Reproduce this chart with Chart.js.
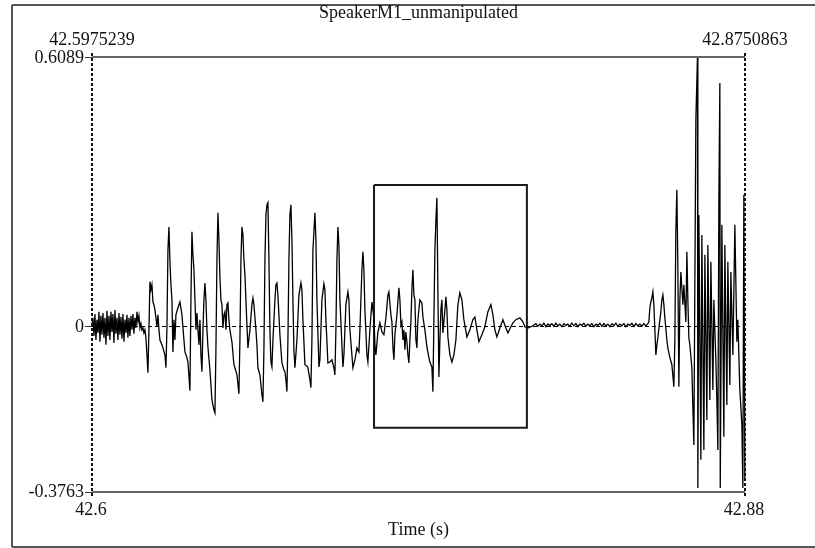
<!DOCTYPE html>
<html>
<head>
<meta charset="utf-8">
<script src="https://cdn.jsdelivr.net/npm/chart.js@4"></script>
<style>
  html, body { margin: 0; padding: 0; background: #fff; }
  #wave { display: block; }
</style>
</head>
<body>
<canvas id="wave" width="815" height="548"></canvas>
<script>
// window shown in the picture
var tStart = 42.5975239, tEnd = 42.8750863;
var aMin = -0.3763, aMax = 0.6089;
var titleText = "SpeakerM1_unmanipulated";
var bottomLabels = ["42.6", "42.88"];
var xTitle = "Time (s)";

// waveform (time in s, amplitude)
var waveTimes = [
42.59750,42.59793,42.59835,42.59878,42.59920,42.59963,42.60005,42.60048,42.60090,42.60133,
42.60175,42.60218,42.60260,42.60303,42.60345,42.60388,42.60430,42.60473,42.60515,42.60558,
42.60600,42.60643,42.60685,42.60728,42.60770,42.60813,42.60855,42.60898,42.60940,42.60983,
42.61025,42.61068,42.61110,42.61153,42.61195,42.61238,42.61280,42.61323,42.61365,42.61408,
42.61450,42.61493,42.61535,42.61578,42.61620,42.61663,42.61705,42.61748,42.61790,42.61833,
42.61875,42.61918,42.61960,42.62003,42.62045,42.62088,42.62130,42.62173,42.62215,42.62258,
42.62300,42.62343,42.62385,42.62428,42.62470,42.62513,42.62555,42.62598,42.62640,42.62725,
42.62768,42.62853,42.62895,42.62938,42.62980,42.63023,42.63065,42.63108,42.63150,42.63193,
42.63235,42.63278,42.63320,42.63405,42.63490,42.63575,42.63660,42.63703,42.63788,42.63830,
42.63915,42.63958,42.64000,42.64043,42.64085,42.64128,42.64170,42.64213,42.64255,42.64298,
42.64340,42.64383,42.64425,42.64468,42.64510,42.64553,42.64595,42.64638,42.64680,42.64765,
42.64850,42.64935,42.64978,42.65020,42.65063,42.65105,42.65148,42.65190,42.65233,42.65275,
42.65318,42.65360,42.65403,42.65445,42.65488,42.65530,42.65573,42.65615,42.65700,42.65785,
42.65828,42.65913,42.65998,42.66040,42.66083,42.66125,42.66168,42.66210,42.66253,42.66295,
42.66338,42.66380,42.66465,42.66550,42.66593,42.66635,42.66720,42.66763,42.66805,42.66890,
42.66975,42.67018,42.67060,42.67103,42.67145,42.67188,42.67230,42.67273,42.67315,42.67358,
42.67400,42.67443,42.67528,42.67570,42.67613,42.67655,42.67740,42.67825,42.67910,42.67953,
42.67995,42.68038,42.68080,42.68123,42.68165,42.68208,42.68250,42.68293,42.68335,42.68378,
42.68463,42.68548,42.68633,42.68675,42.68718,42.68803,42.68888,42.68930,42.69015,42.69058,
42.69100,42.69143,42.69228,42.69270,42.69313,42.69398,42.69440,42.69525,42.69610,42.69653,
42.69695,42.69780,42.69865,42.69950,42.70035,42.70078,42.70120,42.70163,42.70205,42.70248,
42.70290,42.70418,42.70460,42.70545,42.70630,42.70673,42.70715,42.70843,42.70928,42.71013,
42.71098,42.71140,42.71225,42.71268,42.71310,42.71353,42.71438,42.71480,42.71565,42.71650,
42.71735,42.71778,42.71820,42.71905,42.71990,42.72075,42.72160,42.72245,42.72330,42.72373,
42.72458,42.72500,42.72543,42.72585,42.72628,42.72713,42.72798,42.72840,42.72883,42.72925,
42.72968,42.73010,42.73053,42.73095,42.73138,42.73180,42.73223,42.73265,42.73308,42.73350,
42.73393,42.73435,42.73478,42.73520,42.73563,42.73605,42.73690,42.73775,42.73818,42.73903,
42.73988,42.74073,42.74115,42.74200,42.74243,42.74285,42.74328,42.74370,42.74413,42.74455,
42.74498,42.74540,42.74583,42.74625,42.74668,42.74753,42.74795,42.74838,42.74880,42.74965,
42.75050,42.75135,42.75220,42.75305,42.75390,42.75475,42.75560,42.75688,42.75815,42.75943,
42.76028,42.76113,42.76198,42.76325,42.76453,42.76580,42.76708,42.76793,42.76878,42.76963,
42.77090,42.77218,42.77345,42.77430,42.77558,42.77643,42.77770,42.77940,42.78068,42.78153,
42.78280,42.78408,42.78535,
42.78620,42.78705,42.78790,42.78875,42.78960,42.79045,42.79130,42.79215,42.79300,42.79385,
42.79470,42.79555,42.79640,42.79725,42.79810,42.79895,42.79980,42.80065,42.80150,42.80235,
42.80320,42.80405,42.80490,42.80575,42.80660,42.80745,42.80830,42.80915,42.81000,42.81085,
42.81170,42.81255,42.81340,42.81425,42.81510,42.81595,42.81680,42.81765,42.81850,42.81935,
42.82020,42.82105,42.82190,42.82275,42.82360,42.82445,42.82530,42.82615,42.82700,42.82785,
42.82870,42.82955,42.83040,42.83125,42.83210,42.83295,
42.83380,42.83423,42.83465,
42.83508,42.83550,42.83593,42.83635,42.83678,42.83720,42.83763,42.83805,42.83890,42.83933,
42.83975,42.84018,42.84060,42.84103,42.84188,42.84230,42.84315,42.84400,42.84485,42.84528,
42.84570,42.84613,42.84655,42.84698,42.84740,42.84783,42.84868,42.84910,42.84995,42.85038,
42.85080,42.85123,42.85165,42.85250,42.85293,42.85335,42.85420,42.85488,42.85505,42.85548,
42.85633,42.85675,42.85760,42.85803,42.85888,42.85930,42.86015,42.86058,42.86143,42.86185,
42.86270,42.86313,42.86355,42.86398,42.86440,42.86457,42.86525,42.86610,42.86653,42.86738,
42.86780,42.86865,42.86908,42.86993,42.87078,42.87163,42.87205,42.87290,42.87375,42.87418,
42.87460,42.87503
];
var waveAmps = [
0,0.018,-0.023,0.027,-0.032,0.014,-0.016,0.032,-0.036,0.023,
-0.020,0.029,-0.027,0.018,-0.043,0.034,-0.023,0.023,-0.032,0.032,
-0.014,0.027,-0.039,0.036,-0.018,0.018,-0.032,0.029,-0.020,0.020,
-0.029,0.027,-0.036,0.014,-0.016,0.025,-0.027,0.018,-0.023,0.023,
-0.009,0.027,-0.018,0.018,-0.005,0.032,0.009,0.023,-0.005,0.005,
-0.009,-0.005,-0.016,-0.009,-0.027,-0.066,-0.106,-0.009,0.100,0.082,
0.093,0.054,0.048,0.036,0.018,-0.002,0.025,-0.009,-0.032,-0.043,
-0.050,-0.066,-0.095,-0.005,0.172,0.224,0.145,0.093,0.059,-0.059,
0.014,-0.032,0.025,0.041,0.054,0.025,-0.032,-0.059,-0.072,-0.082,
-0.147,0.059,0.213,0.161,0.127,0.059,-0.009,0.029,-0.009,-0.043,
0.014,-0.066,-0.104,-0.009,0.059,0.097,0.059,-0.009,-0.048,-0.100,
-0.168,-0.190,-0.197,-0.054,0.149,0.256,0.195,0.109,0.059,0.048,
-0.005,0.025,0.032,-0.009,0.048,0.052,0.014,-0.009,-0.036,-0.088,
-0.095,-0.111,-0.154,-0.032,0.149,0.224,0.206,0.149,0.116,0.059,
0.002,-0.050,-0.009,0.048,0.063,0.048,-0.009,-0.043,-0.095,-0.111,
-0.156,-0.172,-0.054,0.149,0.251,0.274,0.279,0.149,-0.009,-0.082,
-0.093,-0.032,0.059,0.093,0.097,0.070,-0.020,-0.084,-0.100,-0.104,
-0.122,-0.149,-0.032,0.149,0.251,0.274,0.195,0.059,-0.054,-0.095,
-0.032,0.070,0.097,0.082,0.014,-0.088,-0.091,-0.095,-0.122,-0.140,
-0.032,0.172,0.256,0.195,0.059,-0.093,-0.077,0.059,0.095,0.082,
0.014,-0.084,-0.082,-0.077,-0.095,-0.111,-0.009,0.149,0.224,0.183,
0.059,-0.093,-0.066,0.048,0.077,0.059,-0.009,-0.095,-0.077,-0.050,
-0.059,-0.009,0.127,0.168,0.127,0.036,-0.066,-0.082,-0.009,0.054,
0.018,-0.043,-0.066,-0.014,0.007,-0.014,-0.020,0.018,0.070,0.077,
0.025,0.009,-0.048,-0.077,-0.020,0.025,0.086,0.059,0.002,0.009,
-0.032,-0.009,-0.054,-0.014,-0.036,-0.066,-0.084,-0.032,0.009,0.082,
0.127,0.070,0.059,-0.032,-0.050,0.014,0.059,0.052,0.020,-0.009,
-0.048,-0.072,-0.082,-0.093,-0.149,0.014,0.172,0.240,0.290,0.082,
-0.116,-0.032,0.036,0.059,-0.016,0.036,0.066,0.036,-0.025,-0.066,
-0.082,-0.066,-0.032,0.048,0.075,0.059,0.014,-0.025,-0.009,0.014,
0.020,-0.009,-0.036,-0.020,-0.002,0.032,0.048,0.025,-0.009,-0.025,
-0.005,0.014,-0.005,-0.016,-0.002,0.007,0.014,0.018,0.009,-0.002,
-0.005,-0.002,0.002,
0.005,-0.001,0.004,0.000,0.006,-0.002,0.004,0.001,0.005,-0.001,
0.006,0.000,0.004,-0.002,0.005,0.001,0.004,-0.001,0.006,0.000,
0.005,-0.002,0.004,0.001,0.006,-0.001,0.004,0.000,0.005,-0.002,
0.004,0.001,0.006,-0.001,0.005,0.000,0.004,-0.002,0.005,0.001,
0.006,-0.001,0.004,0.000,0.005,-0.002,0.004,0.001,0.006,-0.001,
0.005,0.000,0.004,-0.001,0.005,0.000,
0.005,0.009,0.041,
0.054,0.063,0.077,0.048,-0.009,-0.066,-0.043,-0.027,0.014,0.032,
0.059,0.070,0.048,0.018,-0.032,-0.050,-0.072,-0.088,-0.138,-0.032,
0.217,0.308,0.131,-0.138,0.059,0.122,0.048,0.093,0.009,0.168,
0.059,-0.027,-0.043,-0.095,-0.186,-0.270,0.467,0.6089,-0.367,0.251,
-0.303,0.206,-0.281,0.161,-0.213,0.183,-0.168,0.145,-0.145,0.059,
-0.077,-0.168,-0.281,0.285,0.550,-0.367,0.229,-0.251,0.183,-0.179,
0.145,-0.134,0.122,-0.066,0.229,-0.036,0.014,-0.145,-0.224,-0.367,
0.297,-0.349
];

// the rectangle marked on the plot
var boxTimes = [42.71740, 42.78238];
var boxAmps = [0.319, -0.231];

var serif = '18px "Liberation Serif", "DejaVu Serif", serif';

function wavePoints(){
    return waveTimes.map(function(t, i){ return {x: t, y: waveAmps[i]}; });
}

function boxPoints(){
    return [
        {x: boxTimes[0], y: boxAmps[0]},
        {x: boxTimes[1], y: boxAmps[0]},
        {x: boxTimes[1], y: boxAmps[1]},
        {x: boxTimes[0], y: boxAmps[1]},
        {x: boxTimes[0], y: boxAmps[0]}
    ];
}

function vline(ctx, x, y0, y1){
    ctx.beginPath(); ctx.moveTo(x, y0); ctx.lineTo(x, y1); ctx.stroke();
}
function hline(ctx, y, x0, x1){
    ctx.beginPath(); ctx.moveTo(x0, y); ctx.lineTo(x1, y); ctx.stroke();
}

// zero line under the trace
var zeroLine = {
    id: 'zeroLine',
    beforeDatasetsDraw: function(chart){
        var ctx = chart.ctx, a = chart.chartArea, y0 = chart.scales.y.getPixelForValue(0);
        ctx.save();
        ctx.strokeStyle = '#000';
        ctx.lineWidth = 1;
        ctx.setLineDash([4, 3]);
        hline(ctx, Math.round(y0) + 0.5, a.left, a.right);
        ctx.restore();
    }
};

// Praat style frame and labels
var praatFrame = {
    id: 'praatFrame',
    afterDatasetsDraw: function(chart){
        var ctx = chart.ctx;
        var xs = chart.scales.x, ys = chart.scales.y;
        var xl = xs.getPixelForValue(tStart), xr = xs.getPixelForValue(tEnd);
        var yt = ys.getPixelForValue(aMax), yb = ys.getPixelForValue(aMin), y0 = ys.getPixelForValue(0);
        ctx.save();

        // outer border
        ctx.strokeStyle = '#555';
        ctx.lineWidth = 2;
        hline(ctx, 5, 12, 815);
        hline(ctx, 547, 12, 815);
        vline(ctx, 12, 5, 547);

        // top and bottom of the plot
        ctx.strokeStyle = '#666';
        ctx.lineWidth = 2;
        hline(ctx, yt, xl, xr);
        hline(ctx, yb, xl, xr);

        // dashed sides
        ctx.strokeStyle = '#111';
        ctx.setLineDash([3, 2]);
        vline(ctx, xl, yt - 4, yb + 5);
        vline(ctx, xr, yt - 4, yb + 5);
        ctx.setLineDash([]);

        // left ticks
        ctx.lineWidth = 1;
        ctx.strokeStyle = '#333';
        [yt, y0, yb].forEach(function(y){ hline(ctx, Math.round(y) + 0.5, xl - 7, xl); });

        ctx.fillStyle = '#111';
        ctx.font = serif;
        ctx.textBaseline = 'alphabetic';

        ctx.textAlign = 'center';
        ctx.fillText(titleText, (xl + xr) / 2, 18);
        ctx.fillText(tStart.toFixed(7), xl, 45);
        ctx.fillText(tEnd.toFixed(7), xr, 45);
        ctx.fillText(bottomLabels[0], xl - 1, 515);
        ctx.fillText(bottomLabels[1], xr - 1, 515);
        ctx.fillText(xTitle, (xl + xr) / 2, 535);

        ctx.textAlign = 'right';
        ctx.fillText(aMax.toFixed(4), xl - 8, yt + 6);
        ctx.fillText("0", xl - 8, y0 + 6);
        ctx.fillText(aMin.toFixed(4), xl - 8, yb + 5);

        ctx.restore();
    }
};

new Chart(document.getElementById('wave').getContext('2d'), {
    type: 'line',
    data: {
        datasets: [{
            data: wavePoints(),
            borderColor: '#000',
            borderWidth: 1.3,
            pointRadius: 0,
            tension: 0,
            fill: false,
            clip: 2
        }, {
            data: boxPoints(),
            borderColor: '#1a1a1a',
            borderWidth: 2,
            pointRadius: 0,
            tension: 0,
            fill: false
        }]
    },
    options: {
        responsive: false,
        animation: false,
        devicePixelRatio: 1,
        layout: { padding: { left: 92, right: 70, top: 57, bottom: 56 } },
        plugins: { legend: { display: false }, tooltip: { enabled: false } },
        scales: {
            x: { type: 'linear', min: tStart, max: tEnd, display: false },
            y: { min: aMin, max: aMax, display: false }
        }
    },
    plugins: [zeroLine, praatFrame]
});
</script>
</body>
</html>
